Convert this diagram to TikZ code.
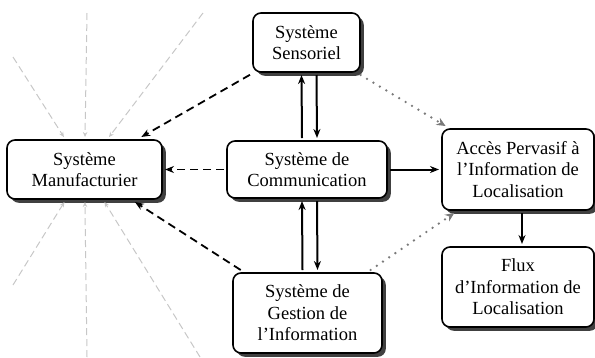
\documentclass[tikz,border=0pt]{standalone}
\usepackage{fontspec}
\setmainfont{Liberation Serif}
\usetikzlibrary{arrows.meta,shadows}
\begin{document}
\begin{tikzpicture}[x=1pt,y=-1pt,
  box/.style={draw=black, line width=1.6pt, rounded corners=8pt, fill=white,
    align=center, inner sep=0pt, outer sep=3pt,
    font=\fontsize{18.5}{21.5}\selectfont,
    drop shadow={shadow xshift=3.8pt, shadow yshift=-3.8pt, fill=black!75, opacity=1}},
  solidarr/.style={line width=2pt, -{Stealth[length=9pt,width=7pt]}},
  dasharr/.style={line width=1.8pt, dash pattern=on 8pt off 5pt, -{Stealth[length=9pt,width=7pt]}},
  dotarr/.style={draw=black!52, line width=2.6pt, line cap=round, dash pattern=on 0pt off 7.5pt,
    -{Stealth[length=9pt,width=8pt,line cap=butt]}},
  ray/.style={draw=black!22, line width=1pt, dash pattern=on 7pt off 4pt, -{Stealth[length=5pt,width=4.5pt]}}
]
\useasboundingbox (0,0) rectangle (595,357);
\begin{scope}
\clip (0,0) rectangle (595,357);
\coordinate (r1) at (13,57);
\coordinate (r2) at (87,13);
\coordinate (r3) at (203,13);
\coordinate (r4) at (13,285);
\coordinate (r5) at (87,357);
\coordinate (r6) at (200,357);

\node[box, minimum width=155pt, minimum height=59pt] (manu) at (84.5,169.5) {Système\\Manufacturier};
\node[box, minimum width=107pt, minimum height=59pt] (sens) at (306.5,42.5) {Système\\Sensoriel};
\node[box, minimum width=160pt, minimum height=57pt] (comm) at (307,169.5) {Système de\\Communication};
\node[box, minimum width=149pt, minimum height=80pt] (gest) at (307.5,313) {Système de\\Gestion de\\l’Information};
\node[box, minimum width=152pt, minimum height=81pt] (acces) at (518,169.5) {Accès Pervasif à\\l’Information de\\Localisation};
\node[box, minimum width=152pt, minimum height=80pt] (flux) at (518,287) {Flux\\d’Information de\\Localisation};

\foreach \r in {r1,r2,r3,r4,r5,r6} \draw[ray] (\r) -- (manu);

\draw[dasharr] (sens) -- (manu);
\draw[dasharr] (gest) -- (manu);
\draw[dasharr] (comm.west) -- (manu.east);
\draw[solidarr] (comm.east) -- (acces.west);
\draw[dotarr] (sens) -- (acces);
\draw[dotarr] (gest) -- (acces);
\draw[solidarr] ([xshift=-5pt]comm.north) -- ([xshift=-5pt]sens.south);
\draw[solidarr] ([xshift=10pt]sens.south) -- ([xshift=10pt]comm.north);
\draw[solidarr] ([xshift=-5pt]gest.north) -- ([xshift=-5pt]comm.south);
\draw[solidarr] ([xshift=10pt]comm.south) -- ([xshift=10pt]gest.north);
\draw[solidarr] ([xshift=4pt]acces.south) -- ([xshift=4pt]flux.north);
\end{scope}
\end{tikzpicture}
\end{document}
